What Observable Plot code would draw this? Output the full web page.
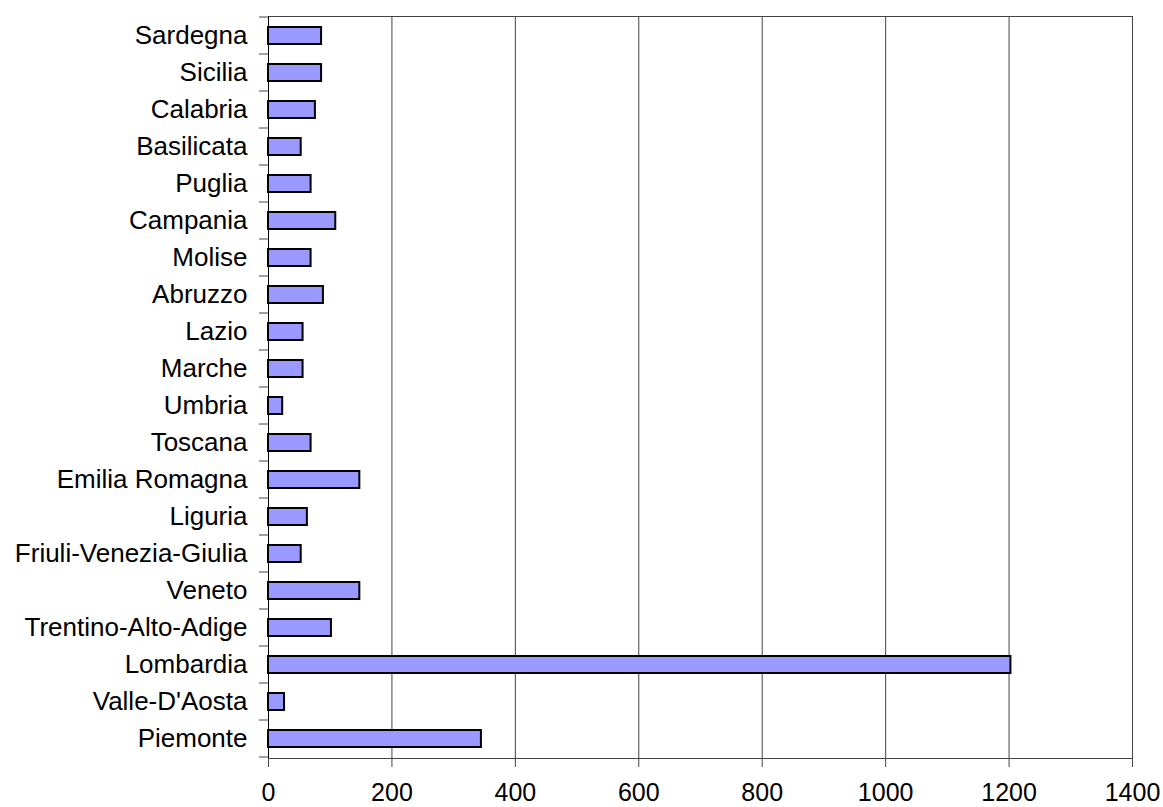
<!DOCTYPE html>
<html>
<head>
<meta charset="utf-8">
<script src="https://cdn.jsdelivr.net/npm/d3@7"></script>
<script src="https://cdn.jsdelivr.net/npm/@observablehq/plot@0.6"></script>
<style>
  html, body { margin: 0; padding: 0; background: #fff; }
</style>
</head>
<body>
<div id="chart"></div>
<script>
// Regions, bottom to top as drawn
const regions = ["Piemonte", "Valle-D'Aosta", "Lombardia", "Trentino-Alto-Adige", "Veneto",
  "Friuli-Venezia-Giulia", "Liguria", "Emilia Romagna", "Toscana", "Umbria", "Marche",
  "Lazio", "Abruzzo", "Molise", "Campania", "Puglia", "Basilicata", "Calabria", "Sicilia", "Sardegna"];
const values = [345, 26, 1203, 102, 148, 53, 63, 148, 69, 23, 56, 56, 89, 69, 109, 69, 53, 76, 86, 86];
const xTicks = [0, 200, 400, 600, 800, 1000, 1200, 1400];

const data = regions.map((r, i) => ({region: r, value: values[i]}));

const chart = Plot.plot({
  width: 1163,
  height: 807,
  marginLeft: 268,
  marginRight: 31,
  marginTop: 16,
  marginBottom: 49,
  style: {fontFamily: "'Liberation Sans', Arial, sans-serif", background: "#fff", color: "#000"},
  x: {domain: [0, 1400]},
  y: {domain: regions.slice().reverse(), paddingInner: 0.55, paddingOuter: 0.275},
  marks: [
    Plot.gridX(xTicks, {stroke: "#444", strokeOpacity: 1}),
    Plot.frame({stroke: "#444"}),
    Plot.barX(data, {x: "value", y: "region", fill: "#9999FF", stroke: "#000", strokeWidth: 2}),
    Plot.ruleX([0], {stroke: "#000"}),
    Plot.ruleY([0], {stroke: "#000", frameAnchor: "bottom"}),
    Plot.axisX(xTicks, {tickSize: 9, tickPadding: 16, fontSize: 25, stroke: "#444", label: null, tickFormat: d => String(d)}),
    Plot.axisY({tickSize: 0, tickPadding: 21, fontSize: 26, label: null})
  ]
});

// Category boundary ticks on the left, positioned from the y band scale
const ys = chart.scale("y");
const xs = chart.scale("x");
const x0 = xs.apply(0);
const bounds = new Set();
for (const d of ys.domain) {
  const c = ys.apply(d) + ys.bandwidth / 2;
  bounds.add(+(c - ys.step / 2).toFixed(2));
  bounds.add(+(c + ys.step / 2).toFixed(2));
}
d3.select(chart).append("g")
  .attr("stroke", "#444")
  .selectAll("line")
  .data([...bounds])
  .join("line")
  .attr("x1", x0 - 9).attr("x2", x0)
  .attr("y1", d => d).attr("y2", d => d);

document.getElementById("chart").appendChild(chart);
</script>
</body>
</html>
